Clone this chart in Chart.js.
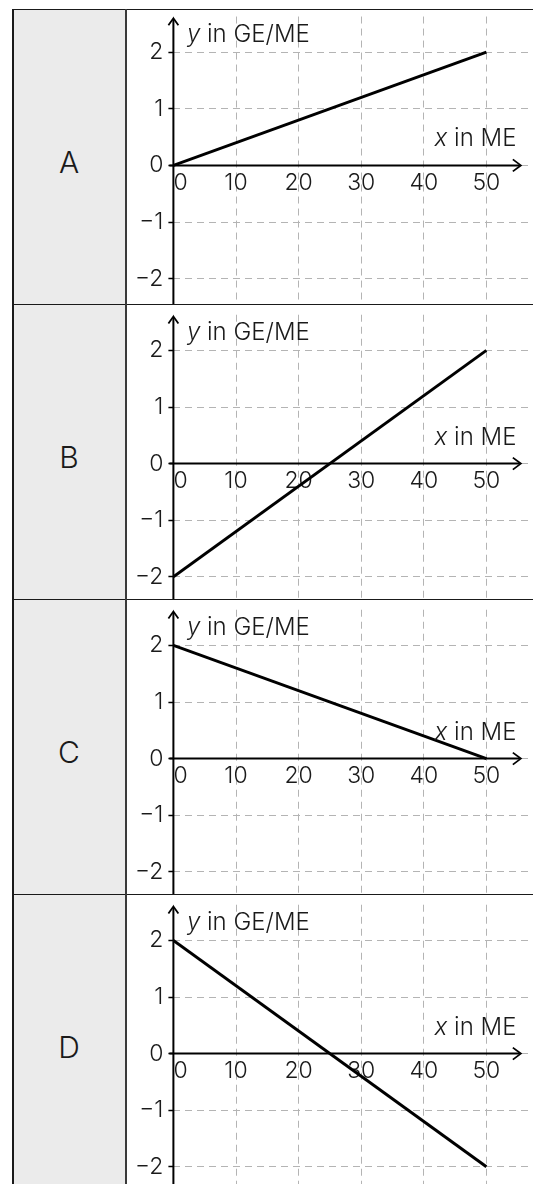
<!DOCTYPE html>
<html>
<head>
<meta charset="utf-8">
<script src="https://cdn.jsdelivr.net/npm/chart.js@4.4.1/dist/chart.umd.min.js"></script>
<style>
  html, body { margin: 0; padding: 0; background: #fff; width: 533px; height: 1184px; overflow: hidden; }
  #wrap { position: relative; width: 533px; height: 1184px; overflow: hidden; }
  .gray { position: absolute; left: 13px; width: 113px; background: #ebebeb; }
  .letter { position: absolute; left: 13px; width: 112px; height: 40px; line-height: 40px; text-align: center;
            font-family: Inter, "Liberation Sans", sans-serif; font-weight: 300; font-size: 30px; color: #1a1a1a; }
  .hl { position: absolute; left: 12px; width: 521px; height: 1.6px; background: #1a1a1a; z-index: 5; }
  .vl { position: absolute; top: 9px; height: 1175px; z-index: 5; }
  canvas { position: absolute; }
</style>
</head>
<body>
<div id="wrap"></div>
<script>
// ---------------- data ----------------
const rowLabels = ['A', 'B', 'C', 'D'];
const xValues   = [0, 50];
const seriesA   = [0, 2];
const seriesB   = [-2, 2];
const seriesC   = [2, 0];
const seriesD   = [2, -2];
const xTicks    = [0, 10, 20, 30, 40, 50];
const yTicks    = [-2, -1, 0, 1, 2];
const yTitle    = ['y', ' in GE/ME'];
const xTitle    = ['x', ' in ME'];
const allSeries = [seriesA, seriesB, seriesC, seriesD];

// ---------------- layout ----------------
const ROW_TOP = [9.3, 304.3, 599.3, 894.3];
const ROW_H = 295;
const Y0_REL = [156.4, 159.6, 159.6, 159.6];
const COL_X = 126;
const CANVAS_W = 533 - COL_X;
const PAD_LEFT = 173.4 - COL_X;
const PXX = 6.26;     // px per x unit
const PXY = 56.6;     // px per y unit
const Y_TOP = 2.63;   // grid top (y units)
const Y_ARROW = 2.6;
const X_ARROW = 55.5;
const FONT = 'Inter, "Liberation Sans", sans-serif';
const FS = 23;
const TFS = 24;
const INK = '#1a1a1a';
const GRID = '#b4b4b4';

const wrap = document.getElementById('wrap');
function el(cls, style, text) {
  const d = document.createElement('div');
  d.className = cls;
  Object.assign(d.style, style);
  if (text) d.textContent = text;
  wrap.appendChild(d);
  return d;
}

const minus = v => (v < 0 ? '\u2212' + Math.abs(v) : String(v));

const axesPlugin = {
  id: 'axesDeco',
  afterDatasetsDraw(chart) {
    const { ctx, scales: { x, y }, chartArea } = chart;
    const x0 = x.getPixelForValue(0);
    const y0 = y.getPixelForValue(0);
    ctx.save();
    ctx.strokeStyle = '#000';
    ctx.lineWidth = 2;
    ctx.lineCap = 'butt';
    // y axis
    const yTip = y.getPixelForValue(Y_ARROW);
    ctx.beginPath(); ctx.moveTo(x0, chartArea.bottom + 2); ctx.lineTo(x0, yTip + 1); ctx.stroke();
    ctx.lineWidth = 1.8;
    ctx.beginPath(); ctx.moveTo(x0 - 5, yTip + 7); ctx.lineTo(x0, yTip); ctx.lineTo(x0 + 5, yTip + 7); ctx.stroke();
    // x axis
    ctx.lineWidth = 2;
    const xTip = x.getPixelForValue(X_ARROW);
    ctx.beginPath(); ctx.moveTo(x0 - 4, y0); ctx.lineTo(xTip - 1, y0); ctx.stroke();
    ctx.lineWidth = 1.8;
    ctx.beginPath(); ctx.moveTo(xTip - 8, y0 - 6); ctx.lineTo(xTip, y0); ctx.lineTo(xTip - 8, y0 + 6); ctx.stroke();
    // titles
    ctx.fillStyle = INK;
    ctx.textBaseline = 'alphabetic';
    ctx.textAlign = 'left';
    let tx = x0 + 13.5, ty = y0 - 123.5;
    ctx.font = `italic 300 ${TFS}px ${FONT}`;
    ctx.fillText(yTitle[0], tx, ty);
    tx += ctx.measureText(yTitle[0]).width;
    ctx.font = `300 ${TFS}px ${FONT}`;
    ctx.fillText(yTitle[1], tx, ty);
    // x title, right aligned
    const xr = x.getPixelForValue(54.8);
    ctx.font = `300 ${TFS}px ${FONT}`;
    const w1 = ctx.measureText(xTitle[1]).width;
    ctx.fillText(xTitle[1], xr - w1, y0 - 19);
    ctx.font = `italic 300 ${TFS}px ${FONT}`;
    const w0 = ctx.measureText(xTitle[0]).width;
    ctx.fillText(xTitle[0], xr - w1 - w0, y0 - 19);
    ctx.restore();
  }
};

function zeroPad(s) { s.paddingLeft = 0; s.paddingRight = 0; s.paddingTop = 0; s.paddingBottom = 0; }

rowLabels.forEach((lab, i) => {
  const top = ROW_TOP[i];
  el('gray', { top: top + 'px', height: ROW_H + 'px' });
  el('letter', { top: (top + 153 - 20) + 'px' }, lab);

  const cv = document.createElement('canvas');
  cv.width = CANVAS_W; cv.height = ROW_H;
  cv.style.left = COL_X + 'px'; cv.style.top = top + 'px';
  cv.style.width = CANVAS_W + 'px'; cv.style.height = ROW_H + 'px';
  wrap.appendChild(cv);

  const y0 = Y0_REL[i];
  const padTop = y0 - Y_TOP * PXY;
  const yMin = -(ROW_H - y0) / PXY;
  const xMax = (CANVAS_W - PAD_LEFT) / PXX;
  const tickFont = { family: FONT, size: FS, weight: 300 };

  new Chart(cv, {
    type: 'line',
    data: {
      datasets: [{
        data: xValues.map((xv, k) => ({ x: xv, y: allSeries[i][k] })),
        borderColor: '#000',
        borderWidth: 3,
        pointRadius: 0,
        fill: false,
        tension: 0
      }]
    },
    options: {
      responsive: false,
      animation: false,
      devicePixelRatio: 1,
      events: [],
      layout: { padding: { left: 0, top: padTop, right: 0, bottom: 0 } },
      plugins: { legend: { display: false }, tooltip: { enabled: false }, title: { display: false } },
      scales: {
        x: {
          type: 'linear', position: { y: 0 }, min: 0, max: xMax,
          afterBuildTicks: s => { s.ticks = xTicks.map(v => ({ value: v })); },
          afterFit: s => { s.height = 0; zeroPad(s); },
          ticks: { font: tickFont, color: INK, padding: 4, maxRotation: 0, autoSkip: false,
                   callback: v => (v === 0 ? '' : minus(v)) },
          grid: { color: GRID, lineWidth: 1, drawTicks: false },
          border: { display: false, dash: [7, 5] }
        },
        x2: {
          type: 'linear', axis: 'x', position: { y: 0 }, min: 0, max: xMax,
          afterBuildTicks: s => { s.ticks = [{ value: xTicks[0] }]; },
          afterFit: s => { s.height = 0; zeroPad(s); },
          ticks: { font: tickFont, color: INK, padding: 4, align: 'start', maxRotation: 0,
                   callback: v => minus(v) },
          grid: { display: false, drawTicks: false },
          border: { display: false }
        },
        y: {
          type: 'linear', position: 'left', min: yMin, max: Y_TOP,
          afterBuildTicks: s => { s.ticks = yTicks.map(v => ({ value: v })); },
          afterFit: s => { s.width = PAD_LEFT; zeroPad(s); },
          ticks: { font: tickFont, color: INK, padding: 5, autoSkip: false, callback: v => minus(v) },
          grid: { color: GRID, lineWidth: 1, drawTicks: true, tickLength: 5, tickColor: '#000',
                  tickWidth: 1.5, tickBorderDash: [] },
          border: { display: false, dash: [7, 5] }
        }
      }
    },
    plugins: [axesPlugin]
  });
});

// table rules
ROW_TOP.forEach(t => el('hl', { top: (t - 0.8) + 'px' }));
el('vl', { left: '12px', width: '1.8px', background: '#1a1a1a' });
el('vl', { left: '125px', width: '2px', background: '#3a3a3a' });
</script>
</body>
</html>
